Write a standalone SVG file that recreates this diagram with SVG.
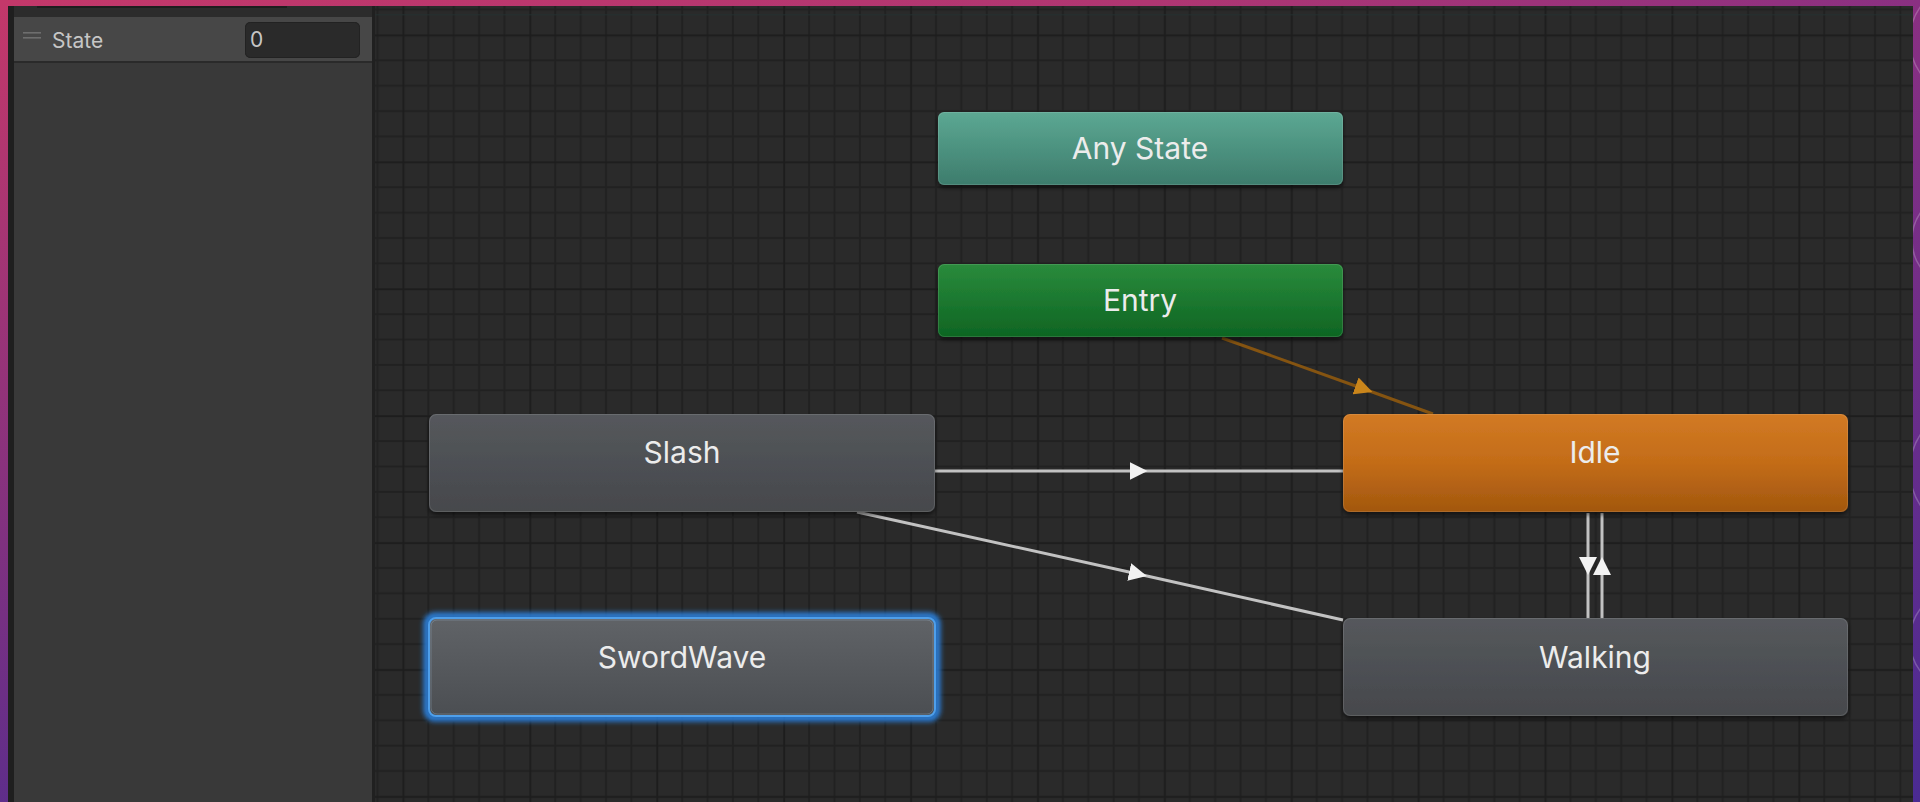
<svg xmlns="http://www.w3.org/2000/svg" width="1920" height="802" viewBox="0 0 1920 802">
  <defs>
    <style>
      .node-label { font-family: "Inter", "Liberation Sans", sans-serif; font-size: 30px; fill: #ececec; text-anchor: middle; }
      .panel-label { font-family: "Inter", "Liberation Sans", sans-serif; font-size: 21px; fill: #c6c6c6; }
      .link { stroke: #c2c2c2; stroke-width: 3; fill: none; }
      .link-entry { stroke: #855411; stroke-width: 3; fill: none; }
      .edge-hi { fill: none; stroke: #ffffff; stroke-opacity: 0.12; stroke-width: 1; }
    </style>

    <!-- window backdrop -->
    <linearGradient id="bgH" x1="0" y1="0" x2="1920" y2="0" gradientUnits="userSpaceOnUse">
      <stop offset="0" stop-color="#c4386a"/>
      <stop offset="0.6" stop-color="#b03672"/>
      <stop offset="1" stop-color="#8a3082"/>
    </linearGradient>
    <linearGradient id="bgV" x1="0" y1="0" x2="0" y2="802" gradientUnits="userSpaceOnUse">
      <stop offset="0" stop-color="#28289c" stop-opacity="0"/>
      <stop offset="1" stop-color="#28289c" stop-opacity="0.65"/>
    </linearGradient>

    <!-- graph canvas grid: minor every 25.38, major every 5 cells -->
    <pattern id="grid" patternUnits="userSpaceOnUse" x="390.31" y="22.31" width="126.9" height="126.9">
      <rect width="126.9" height="126.9" fill="#2a2a2a"/>
      <g fill="#212121">
        <rect x="37.07" y="0" width="2" height="126.9"/>
        <rect x="62.45" y="0" width="2" height="126.9"/>
        <rect x="87.83" y="0" width="2" height="126.9"/>
        <rect x="113.21" y="0" width="2" height="126.9"/>
        <rect x="0" y="37.07" width="126.9" height="2"/>
        <rect x="0" y="62.45" width="126.9" height="2"/>
        <rect x="0" y="87.83" width="126.9" height="2"/>
        <rect x="0" y="113.21" width="126.9" height="2"/>
      </g>
      <g fill="#1d1d1d">
        <rect x="12.19" y="0" width="2" height="126.9"/>
        <rect x="0" y="12.19" width="126.9" height="2"/>
      </g>
    </pattern>

    <!-- node fills -->
    <linearGradient id="gGray" x1="0" y1="0" x2="0" y2="1">
      <stop offset="0" stop-color="#55585c"/>
      <stop offset="1" stop-color="#46484c"/>
    </linearGradient>
    <linearGradient id="gGrayLight" x1="0" y1="0" x2="0" y2="1">
      <stop offset="0" stop-color="#606367"/>
      <stop offset="1" stop-color="#4b4e52"/>
    </linearGradient>
    <linearGradient id="gOrange" x1="0" y1="0" x2="0" y2="1">
      <stop offset="0" stop-color="#d27a24"/>
      <stop offset="0.5" stop-color="#c36c18"/>
      <stop offset="1" stop-color="#a2570e"/>
    </linearGradient>
    <linearGradient id="gTeal" x1="0" y1="0" x2="0" y2="1">
      <stop offset="0" stop-color="#5ca893"/>
      <stop offset="1" stop-color="#3d7c6c"/>
    </linearGradient>
    <linearGradient id="gGreen" x1="0" y1="0" x2="0" y2="1">
      <stop offset="0" stop-color="#2a8b3c"/>
      <stop offset="1" stop-color="#0e6523"/>
    </linearGradient>

    <filter id="shadow" x="-5%" y="-20%" width="110%" height="150%">
      <feDropShadow dx="0" dy="3" stdDeviation="2" flood-color="#000000" flood-opacity="0.55"/>
    </filter>
    <filter id="glow" x="-10%" y="-30%" width="120%" height="160%">
      <feGaussianBlur stdDeviation="2.5"/>
    </filter>

    <!-- transition arrowheads, centred on the middle vertex -->
    <marker id="arrow" viewBox="0 0 18 18" refX="9" refY="9" markerWidth="18" markerHeight="18" markerUnits="userSpaceOnUse" orient="auto">
      <path d="M0,0 L18,9 L0,18 Z" fill="#f2f2f2"/>
    </marker>
    <marker id="arrowEntry" viewBox="0 0 18 18" refX="9" refY="9" markerWidth="18" markerHeight="18" markerUnits="userSpaceOnUse" orient="auto">
      <path d="M0,0 L18,9 L0,18 Z" fill="#c9851b"/>
    </marker>
  </defs>

  <!-- window backdrop -->
  <rect x="0" y="0" width="1920" height="802" fill="url(#bgH)"/>
  <rect x="0" y="0" width="1920" height="802" fill="url(#bgV)"/>
  <g fill="none" stroke="#ffffff" stroke-opacity="0.22" stroke-width="1.5">
    <circle cx="1968" cy="40" r="58"/>
    <circle cx="1960" cy="240" r="48"/>
    <circle cx="1975" cy="470" r="65"/>
    <circle cx="1962" cy="640" r="52"/>
  </g>

  <!-- graph canvas -->
  <rect x="375" y="6" width="1538" height="796" fill="url(#grid)"/>
  <rect x="375" y="14" width="1538" height="1.5" fill="#243232" opacity="0.6"/>

  <!-- parameters panel -->
  <g id="parameters-panel">
    <rect x="8" y="6" width="367" height="796" fill="#1f1f1f"/>
    <rect x="14" y="6" width="359" height="796" fill="#393939"/>
    <rect x="14" y="6" width="359" height="11" fill="#2c2c2c"/>
    <rect x="37" y="6" width="250" height="2" fill="#1e1e1e"/>
    <rect x="14" y="17" width="359" height="45" fill="#474747"/>
    <rect x="14" y="61" width="359" height="2" fill="#2a2a2a"/>
    <rect x="372" y="6" width="3" height="796" fill="#202020"/>
    <g fill="#6e6e6e">
      <rect x="23" y="32" width="18" height="1.6"/>
      <rect x="23" y="37" width="18" height="1.6"/>
    </g>
    <text class="panel-label" x="52" y="48">State</text>
    <rect x="245" y="22" width="115" height="36" rx="5" fill="#2a2a2a"/>
    <rect x="245.5" y="22.5" width="114" height="35" rx="5" fill="none" stroke="#222222" stroke-width="1"/>
    <text class="panel-label" x="250" y="47">0</text>
  </g>

  <!-- transitions -->
  <g id="connectors">
    <path class="link-entry" d="M1222,338 L1364,389 L1433,414" marker-mid="url(#arrowEntry)"/>
    <path class="link" d="M935,471 L1138.5,471 L1343,471" marker-mid="url(#arrow)"/>
    <path class="link" d="M857,512 L1138,574 L1343,620" marker-mid="url(#arrow)"/>
    <path class="link" d="M1588,513 L1588,566 L1588,618" marker-mid="url(#arrow)"/>
    <path class="link" d="M1602,618 L1602,566 L1602,513" marker-mid="url(#arrow)"/>
  </g>

  <!-- states -->
  <g id="node-any-state">
    <rect x="938" y="112" width="405" height="73" rx="6" fill="url(#gTeal)" filter="url(#shadow)"/>
    <rect class="edge-hi" x="938.5" y="112.5" width="404" height="72" rx="6"/>
    <text class="node-label" x="1140" y="159">Any State</text>
  </g>

  <g id="node-entry">
    <rect x="938" y="264" width="405" height="73" rx="6" fill="url(#gGreen)" filter="url(#shadow)"/>
    <rect class="edge-hi" x="938.5" y="264.5" width="404" height="72" rx="6"/>
    <text class="node-label" x="1140" y="311">Entry</text>
  </g>

  <g id="node-slash">
    <rect x="429" y="414" width="506" height="98" rx="7" fill="url(#gGray)" filter="url(#shadow)"/>
    <rect class="edge-hi" x="429.5" y="414.5" width="505" height="97" rx="7"/>
    <text class="node-label" x="682" y="463">Slash</text>
  </g>

  <g id="node-idle">
    <rect x="1343" y="414" width="505" height="98" rx="7" fill="url(#gOrange)" filter="url(#shadow)"/>
    <rect class="edge-hi" x="1343.5" y="414.5" width="504" height="97" rx="7"/>
    <text class="node-label" x="1595" y="463">Idle</text>
  </g>

  <g id="node-swordwave">
    <rect x="427" y="616" width="510" height="102" rx="8" fill="none" stroke="#2a80dc" stroke-width="7" filter="url(#glow)"/>
    <rect x="429" y="618" width="506" height="98" rx="7" fill="url(#gGrayLight)"/>
    <rect x="429" y="618" width="506" height="98" rx="7" fill="none" stroke="#4f9fea" stroke-width="2"/>
    <rect x="431" y="620" width="502" height="94" rx="6" fill="none" stroke="#9ab4cc" stroke-opacity="0.35" stroke-width="1"/>
    <text class="node-label" x="682" y="668">SwordWave</text>
  </g>

  <g id="node-walking">
    <rect x="1343" y="618" width="505" height="98" rx="7" fill="url(#gGray)" filter="url(#shadow)"/>
    <rect class="edge-hi" x="1343.5" y="618.5" width="504" height="97" rx="7"/>
    <text class="node-label" x="1595" y="668">Walking</text>
  </g>
</svg>
